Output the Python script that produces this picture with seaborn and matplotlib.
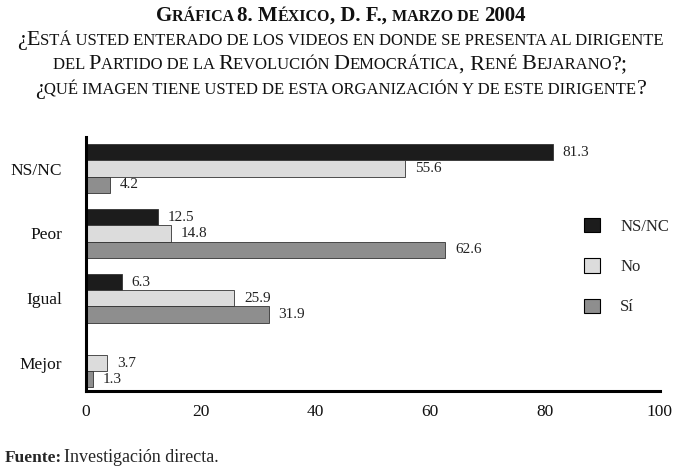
import matplotlib
matplotlib.use("Agg")
import matplotlib.pyplot as plt
import pandas as pd
import seaborn as sns
from matplotlib.offsetbox import AnchoredOffsetbox, HPacker, TextArea
from matplotlib.patches import Patch

# --------------------------------------------------------------------------- #
# Data
# --------------------------------------------------------------------------- #
categories = ["NS/NC", "Peor", "Igual", "Mejor"]
series = ["NS/NC", "No", "Sí"]
ns_nc = [81.3, 12.5, 6.3, 0.0]
no = [55.6, 14.8, 25.9, 3.7]
si = [4.2, 62.6, 31.9, 1.3]
colors = ["#1c1c1c", "#dcdcdc", "#8e8e8e"]

title_lines = [
    "Gráfica 8. México, D. F., marzo de 2004",
    "¿Está usted enterado de los videos en donde se presenta al dirigente",
    "del Partido de la Revolución Democrática, René Bejarano?;",
    "¿qué imagen tiene usted de esta organización y de este dirigente?",
]

df = pd.DataFrame({
    "categoria": categories * 3,
    "respuesta": [s for s in series for _ in categories],
    "valor": ns_nc + no + si,
})

SERIF = ["Liberation Serif", "DejaVu Serif"]


def small_caps(fig, text, y, big, small, weight="normal"):
    """Fake small caps: lowercase letters drawn as smaller capitals."""
    runs = []
    for ch in text:
        kind = "s" if ch.islower() else ("b" if not ch.isspace() else None)
        if kind is None and runs:
            runs[-1][1] += ch
            continue
        if runs and runs[-1][0] == kind:
            runs[-1][1] += ch
        else:
            runs.append([kind or "b", ch])
    boxes = []
    for kind, chunk in runs:
        size = small if kind == "s" else big
        boxes.append(TextArea(chunk.upper() if kind == "s" else chunk,
                              textprops=dict(size=size, family=SERIF,
                                             weight=weight, color="#111111")))
    pack = HPacker(children=boxes, align="baseline", pad=0, sep=0)
    box = AnchoredOffsetbox(loc="upper center", child=pack, pad=0, borderpad=0,
                            frameon=False, bbox_to_anchor=(0.5, y),
                            bbox_transform=fig.transFigure)
    fig.add_artist(box)


sns.set_theme(style="white")
plt.rcParams["font.family"] = SERIF

fig = plt.figure(figsize=(6.81, 4.70), dpi=100)
ax = fig.add_axes([0.126, 0.168, 0.843, 0.541])

sns.barplot(data=df, y="categoria", x="valor", hue="respuesta",
            order=categories, hue_order=series, palette=colors,
            orient="h", width=0.75, edgecolor="#333333", linewidth=0.6,
            legend=False, ax=ax)

for cont in ax.containers:
    labels = [f"{v:.1f}" if v > 0 else "" for v in cont.datavalues]
    ax.bar_label(cont, labels=labels, padding=7, fontsize=11,
                 color="#222222", family=SERIF)

ax.set_xlim(0, 100)
ax.set_ylim(3.43, -0.49)
ax.set_xticks(range(0, 101, 20))
ax.set_xlabel("")
ax.set_ylabel("")
ax.tick_params(axis="x", direction="in", length=6, width=2, color="black",
               pad=9, labelsize=12.5, labelcolor="#111111")
ax.tick_params(axis="y", length=0, pad=17, labelsize=12.5, labelcolor="#111111")
for side in ["top", "right"]:
    ax.spines[side].set_visible(False)
for side in ["left", "bottom"]:
    ax.spines[side].set_linewidth(2.2)
    ax.spines[side].set_color("black")

handles = [Patch(facecolor=c, edgecolor="black", linewidth=0.8) for c in colors]
fig.legend(handles, series, loc="upper left", bbox_to_anchor=(0.836, 0.568),
           frameon=False, fontsize=12, handlelength=0.95, handleheight=0.95,
           labelspacing=1.4, handletextpad=1.2)

small_caps(fig, title_lines[0], 0.988, 15, 11.5, weight="bold")
small_caps(fig, title_lines[1], 0.935, 16, 12)
small_caps(fig, title_lines[2], 0.882, 16, 12)
small_caps(fig, title_lines[3], 0.829, 16, 12)

fig.text(0.007, 0.017, "Fuente:", fontsize=12.5, weight="bold", family=SERIF)
fig.text(0.094, 0.017, "Investigación directa.", fontsize=13, family=SERIF)

fig.savefig("out.png", dpi=100)
